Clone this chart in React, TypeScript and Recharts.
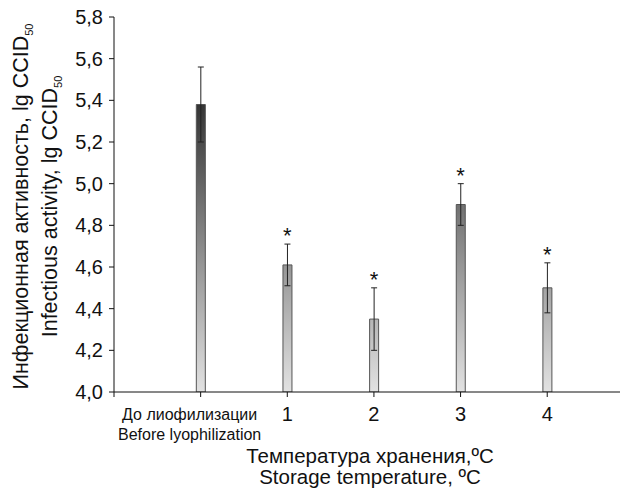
import React from 'react'
import { ComposedChart, Bar, ErrorBar, Scatter, XAxis, YAxis } from 'recharts'

const categories = ['До лиофилизации', '1', '2', '3', '4']
const subLabels = ['Before lyophilization', '', '', '', '']
const positions = [1, 2, 3, 4, 5]
const means = [5.38, 4.61, 4.35, 4.9, 4.5]
const errors = [0.18, 0.1, 0.15, 0.1, 0.12]
const significant = [false, true, true, true, true]
const yTicks = [4.0, 4.2, 4.4, 4.6, 4.8, 5.0, 5.2, 5.4, 5.6, 5.8]

const data = categories.map((name, i) => ({
  pos: positions[i],
  name,
  sub: subLabels[i],
  value: means[i],
  err: errors[i],
}))

const starData = data
  .filter((_, i) => significant[i])
  .map((d) => ({ pos: d.pos, star: d.value + d.err }))

const FONT = '"Liberation Sans", Arial, sans-serif'

function XTick(props: any) {
  const { x, y, payload } = props
  const idx = positions.indexOf(payload.value)
  if (idx < 0) return null
  const d = data[idx]
  if (d.sub) {
    return (
      <g>
        <text x={x - 11} y={y + 21} textAnchor="middle" fontSize={16} fill="#111" fontFamily={FONT}>
          {d.name}
        </text>
        <text x={x - 11} y={y + 41} textAnchor="middle" fontSize={16} fill="#111" fontFamily={FONT}>
          {d.sub}
        </text>
      </g>
    )
  }
  return (
    <text x={x} y={y + 22} textAnchor="middle" fontSize={20} fill="#111" fontFamily={FONT}>
      {d.name}
    </text>
  )
}

function XTitle() {
  const cx = 370
  return (
    <g>
      <text x={cx} y={463} textAnchor="middle" fontSize={20.5} fill="#111" fontFamily={FONT}>
        Температура хранения,ºC
      </text>
      <text x={cx} y={484} textAnchor="middle" fontSize={20.5} fill="#111" fontFamily={FONT}>
        Storage temperature, ºC
      </text>
    </g>
  )
}

function YTitle(props: any) {
  const { viewBox } = props
  const cy = viewBox.y + viewBox.height / 2 + 2
  return (
    <g fontFamily={FONT} fontSize={21.5} fill="#111">
      <text x={28} y={cy} textAnchor="middle" transform={`rotate(-90, 28, ${cy})`}>
        Инфекционная активность, lg CCID<tspan fontSize={11} dy={5}>50</tspan>
      </text>
      <text x={57} y={cy} textAnchor="middle" transform={`rotate(-90, 57, ${cy})`}>
        Infectious activity, lg CCID<tspan fontSize={11} dy={5}>50</tspan>
      </text>
    </g>
  )
}

function Star(props: any) {
  const { cx, cy } = props
  return (
    <text x={cx} y={cy - 1} textAnchor="middle" fontSize={22} fill="#111" fontFamily={FONT}>
      *
    </text>
  )
}

export default function App() {
  return (
    <div style={{ position: 'absolute', left: 0, top: 0, background: '#fff', fontFamily: FONT }}>
      <ComposedChart width={627} height={490} data={data} margin={{ top: 17, right: 7, left: 0, bottom: 0 }}>
        <defs>
          <linearGradient id="barGrad" gradientUnits="userSpaceOnUse" x1="0" y1="17" x2="0" y2="392">
            <stop offset="0%" stopColor="#000" />
            <stop offset="100%" stopColor="#e2e2e2" />
          </linearGradient>
        </defs>
        <XAxis
          type="number"
          dataKey="pos"
          domain={[0, 5.84]}
          ticks={[0, 1, 2, 3, 4, 5]}
          height={98}
          stroke="#111"
          tickSize={5}
          tick={<XTick />}
          interval={0}
          allowDataOverflow
          label={<XTitle />}
        />
        <YAxis
          type="number"
          domain={[4, 5.8]}
          ticks={yTicks}
          width={114}
          stroke="#111"
          tickSize={5}
          tickMargin={6}
          interval={0}
          allowDataOverflow
          tickFormatter={(v: number) => v.toFixed(1).replace('.', ',')}
          tick={{ fontSize: 20, fill: '#111', fontFamily: FONT }}
          label={<YTitle />}
        />
        <Bar dataKey="value" barSize={9} fill="url(#barGrad)" stroke="#555" strokeWidth={1} isAnimationActive={false}>
          <ErrorBar dataKey="err" width={3} stroke="#222" strokeWidth={1} direction="y" />
        </Bar>
        <Scatter data={starData} dataKey="star" shape={<Star />} isAnimationActive={false} />
      </ComposedChart>
    </div>
  )
}
